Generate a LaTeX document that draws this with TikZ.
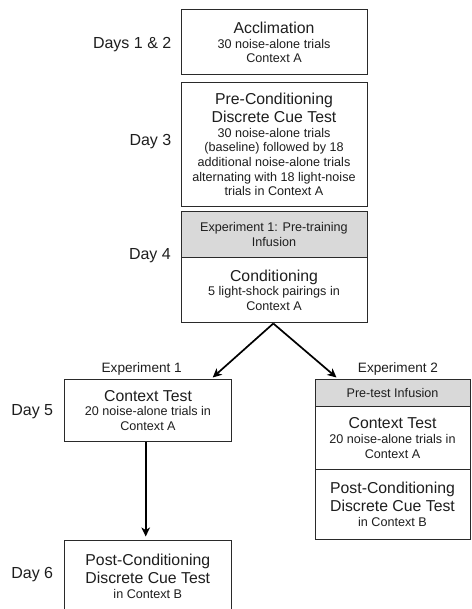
\documentclass[tikz,border=0pt]{standalone}
\usepackage{fontspec}
\setmainfont{Liberation Sans}
\usetikzlibrary{arrows.meta}
\newcommand{\bigf}{\fontsize{15.8}{17.3}\selectfont}
\newcommand{\smf}{\fontsize{12.6}{14.6}\selectfont}
\newcommand{\labf}{\fontsize{16}{18}\selectfont}
\newcommand{\expf}{\fontsize{13.6}{15}\selectfont}
\definecolor{boxline}{HTML}{2A2A2A}
\definecolor{hdrfill}{HTML}{D9D9D9}
\definecolor{txt}{HTML}{1E1E1E}
\begin{document}
\begin{tikzpicture}[x=1pt,y=-1pt,
  stagebox/.style={draw=boxline, line width=1pt, fill=white, inner sep=0pt, align=center, text=txt, font=\smf},
  hdrbox/.style={stagebox, fill=hdrfill},
  daylab/.style={anchor=east, inner sep=0pt, text=txt, font=\labf},
  explab/.style={inner sep=0pt, text=txt, font=\expf},
  flow/.style={line width=1.7pt, draw=black, -{Stealth[length=9pt,width=8.5pt,inset=2.5pt]}}
]
\useasboundingbox (0,0) rectangle (471,609);
\clip (0,0) rectangle (471,609);

% central column
\node[stagebox, minimum width=186pt, minimum height=65pt] (acc) at (274,42.5)
  {{\bigf Acclimation}\\30 noise-alone trials\\Context A};
\node[stagebox, minimum width=186pt, minimum height=123.3pt] (pre) at (274,144.4)
  {{\bigf Pre-Conditioning}\\[2.7pt]{\bigf Discrete Cue Test}\\30 noise-alone trials\\(baseline) followed by 18\\additional noise-alone trials\\alternating with 18 light-noise\\trials in Context A};
\node[hdrbox, minimum width=186pt, minimum height=45.3pt] (inf1) at (274,234.65)
  {Experiment 1: Pre-training\\Infusion};
\node[stagebox, minimum width=186pt, minimum height=65.4pt] (cond) at (274,290)
  {{\bigf Conditioning}\\5 light-shock pairings in\\Context A};

% experiment 1 column
\node[stagebox, minimum width=166.6pt, minimum height=62pt] (ctx1) at (148,410.3)
  {{\bigf Context Test}\\20 noise-alone trials in\\Context A};
\node[stagebox, minimum width=166.6pt, minimum height=72pt] (post1) at (147.8,576)
  {{\bigf Post-Conditioning}\\[2.7pt]{\bigf Discrete Cue Test}\\in Context B};

% experiment 2 column
\node[hdrbox, minimum width=155pt, minimum height=27.4pt] (inf2) at (392.5,393)
  {Pre-test Infusion};
\node[stagebox, minimum width=155pt, minimum height=62.6pt] (ctx2) at (392.5,438)
  {{\bigf Context Test}\\20 noise-alone trials in\\Context A};
\node[stagebox, minimum width=155pt, minimum height=70pt] (post2) at (392.5,504.3)
  {{\bigf Post-Conditioning}\\[2.7pt]{\bigf Discrete Cue Test}\\in Context B};

% day labels
\node[daylab] (d12) at (171.5,45) {Days 1 \& 2};
\node[daylab] (d3) at (171.5,142) {Day 3};
\node[daylab] (d4) at (171,256) {Day 4};
\node[daylab] (d5) at (53.3,411.7) {Day 5};
\node[daylab] (d6) at (53.3,575) {Day 6};

% experiment labels
\node[explab] (e1) at (141.7,369) {Experiment 1};
\node[explab] (e2) at (398,369) {Experiment 2};

% arrows
\coordinate (split) at (273.3,323.5);
\coordinate (tipL) at (212.7,377.5);
\coordinate (tipR) at (336.5,377.5);
\draw[flow] (split) -- (tipL);
\draw[flow] (split) -- (tipR);
\draw[flow] (ctx1.south -| 145.7,0) -- ([yshift=3pt]post1.north -| 145.7,0);
\end{tikzpicture}
\end{document}
